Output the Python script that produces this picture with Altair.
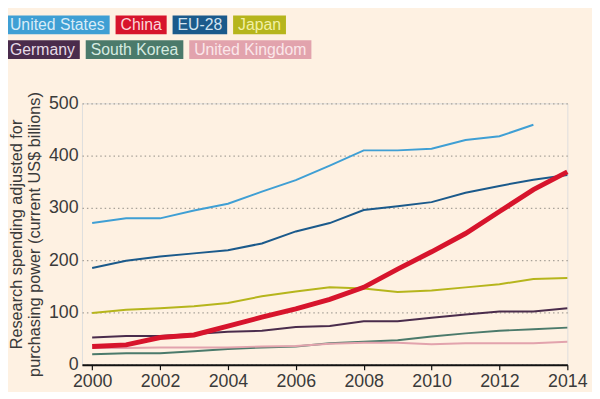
import altair as alt
import pandas as pd

years = list(range(2000, 2015))
series = ["United States", "China", "EU-28", "Japan", "Germany", "South Korea", "United Kingdom"]
us = [271, 280, 280, 295, 308, 331, 353, 381, 410, 410, 413, 430, 437, 459, None]
china = [35, 38, 52, 57, 74, 91, 107, 125, 148, 183, 216, 251, 293, 335, 369]
eu28 = [185, 199, 207, 213, 219, 232, 255, 271, 296, 303, 311, 329, 342, 354, 363]
japan = [99, 105, 108, 112, 118, 131, 140, 148, 146, 139, 142, 148, 154, 164, 166]
germany = [52, 55, 55, 59, 63, 65, 72, 74, 83, 83, 90, 96, 102, 102, 108]
korea = [20, 22, 22, 26, 30, 33, 35, 41, 44, 47, 54, 60, 65, 68, 71]
uk = [32, 32, 33, 33, 33, 35, 36, 40, 42, 42, 39, 41, 41, 41, 44]

line_colors = ["#3f9fd4", "#d7142c", "#1b5a8b", "#b6b51c", "#4a2c4c", "#4b7a6b", "#e2a3ad"]
text_colors = ["#d9ecf7", "#fbd7da", "#d3e4f1", "#f2f0a6", "#e6dbe7", "#d6ebe1", "#fbe7ea"]
legend_rows = [0, 0, 0, 0, 1, 1, 1]

values = [us, china, eu28, japan, germany, korea, uk]
rows = []
for name, vals in zip(series, values):
    for y, v in zip(years, vals):
        if v is not None:
            rows.append({"year": y, "country": name, "value": v})
df = pd.DataFrame(rows)

# legend layout (pixel positions relative to plot origin), widths from Arial metrics
cw = {"U": 722, "n": 556, "i": 222, "t": 278, "e": 556, "d": 556, " ": 278, "S": 667, "a": 556,
      "s": 500, "C": 722, "h": 556, "E": 667, "-": 333, "2": 556, "8": 556, "J": 500, "p": 556,
      "G": 778, "r": 333, "m": 833, "y": 500, "o": 556, "u": 556, "K": 667, "g": 556}
fs = 16
leg = []
cursor = {0: -78, 1: -78}
for name, r, tc, lc in zip(series, legend_rows, text_colors, line_colors):
    w = sum(cw.get(c, 556) for c in name) * fs / 1000 + 10
    x0 = cursor[r]
    top = -89 if r == 0 else -64
    leg.append({"country": name, "bx": x0, "bx2": x0 + w, "tx": x0 + 5,
                "by": top, "by2": top + 19, "ty": top + 10, "tc": tc})
    cursor[r] = x0 + w + 6
ldf = pd.DataFrame(leg)

color_scale = alt.Scale(domain=series, range=line_colors)
xscale = alt.Scale(domain=[1999.7, 2014], nice=False)
yscale = alt.Scale(domain=[0, 500], nice=False)

xaxis = alt.Axis(values=years, labelExpr="datum.value % 2 == 0 ? datum.value : ''",
                 grid=False, domainColor="#111", domainWidth=2, tickColor="#111",
                 tickWidth=1.2, tickSize=5, labelFontSize=18, labelColor="#3a3a3a",
                 labelPadding=3, title=None, labelFlush=False)
yaxis = alt.Axis(values=[0, 100, 200, 300, 400, 500], grid=True, gridDash=[1.5, 3],
                 gridColor="#a8a299", gridWidth=1.3, domain=False, ticks=False,
                 labelFontSize=18, labelColor="#3a3a3a", labelPadding=4,
                 title=["Research spending adjusted for", "purchasing power (current US$ billions)"],
                 titleFontSize=16.5, titleFontWeight="normal", titleColor="#3a3a3a",
                 titleLineHeight=18, titlePadding=6)

base = alt.Chart(df)
others = base.transform_filter(alt.datum.country != "China").mark_line(strokeWidth=2).encode(
    x=alt.X("year:Q", scale=xscale, axis=xaxis),
    y=alt.Y("value:Q", scale=yscale, axis=yaxis),
    color=alt.Color("country:N", scale=color_scale, legend=None),
    detail="country:N",
)
china_line = base.transform_filter(alt.datum.country == "China").mark_line(strokeWidth=5).encode(
    x=alt.X("year:Q", scale=xscale),
    y=alt.Y("value:Q", scale=yscale),
    color=alt.Color("country:N", scale=color_scale, legend=None),
)

lbase = alt.Chart(ldf)
boxes = lbase.mark_rect().encode(
    x=alt.X("bx:Q", scale=None, axis=None),
    x2="bx2:Q",
    y=alt.Y("by:Q", scale=None, axis=None),
    y2="by2:Q",
    color=alt.Color("country:N", scale=color_scale, legend=None),
)
texts = lbase.mark_text(align="left", baseline="middle", fontSize=fs, font="Liberation Sans").encode(
    x=alt.X("tx:Q", scale=None, axis=None),
    y=alt.Y("ty:Q", scale=None, axis=None),
    text="country:N",
    color=alt.Color("tc:N", scale=None, legend=None),
)

main = alt.layer(others, china_line)
legend = alt.layer(boxes, texts)

chart = alt.layer(main, legend).resolve_scale(x="independent", y="independent", color="independent").properties(
    width=492, height=265,
    autosize=alt.AutoSizeParams(type="none"),
    padding={"left": 75, "top": 94, "right": 25, "bottom": 25},
    background="#fef1e2",
).configure_view(stroke=None).configure(font="Liberation Sans")

chart.save("out.html", embed_options={"renderer": "svg", "actions": False})
